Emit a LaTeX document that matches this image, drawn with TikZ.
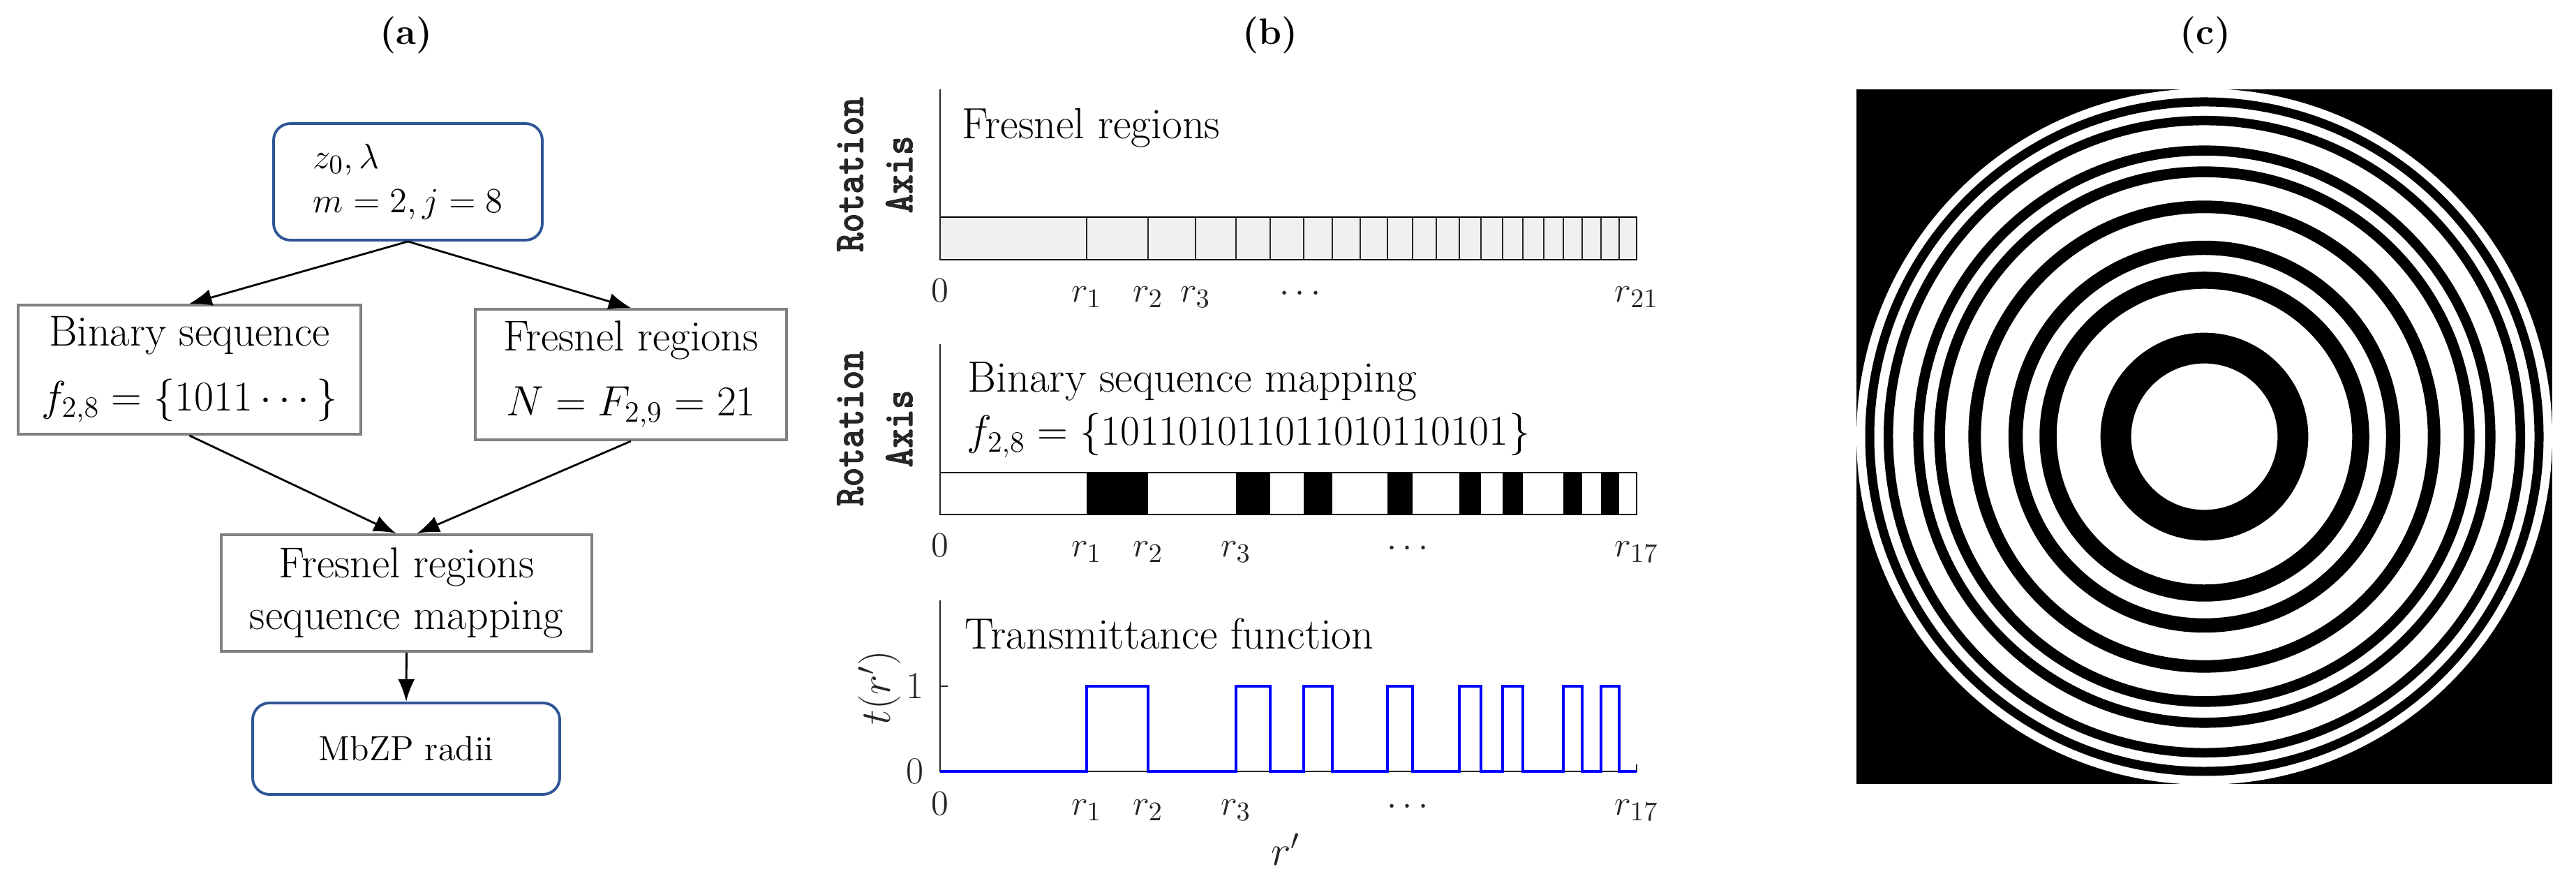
\documentclass[tikz,border=0pt]{standalone}
\usepackage{amsmath}
\usepackage{amssymb}
\usepackage{fontspec}
\newfontfamily\axisfont{lmmonolt10-bold.otf}[FakeStretch=0.87, FakeBold=1.5]
\usepackage{tikz}
\usetikzlibrary{arrows.meta}

\definecolor{boxblue}{RGB}{47,85,151}
\definecolor{boxgray}{RGB}{128,128,128}
\definecolor{axgray}{RGB}{38,38,38}

% zones that are black in the bar (offsets from the axis, in cm)
\newcommand{\zoneblocks}{2.10/2.98, 4.24/4.73, 5.21/5.62, 6.41/6.77, 7.44/7.75, 8.06/8.35, 8.93/9.20, 9.47/9.73}

\begin{document}
\begin{tikzpicture}[
		bluebox/.style={draw=boxblue, line width=1.1pt, rounded corners=0.24cm, inner sep=0pt},
		graybox/.style={draw=boxgray, line width=1.1pt, inner sep=0pt, align=center, font=\fontsize{17.6}{26.4}\selectfont},
		arr/.style={-{Latex[length=0.32cm,width=0.24cm]}, line width=0.8pt},
		tag/.style={font=\fontsize{15}{18}\selectfont\bfseries},
		title/.style={anchor=base west, inner sep=0pt, font=\fontsize{17.8}{21}\selectfont},
		tick/.style={anchor=base, inner sep=0pt, text=axgray, font=\fontsize{15}{18}\selectfont},
		axlabel/.style={rotate=90, align=center, text=axgray, font=\axisfont\fontsize{17.3}{20.1}\selectfont}]
	\useasboundingbox (0,0) rectangle (36.91,12.62);

	% (a) flow chart
	\node[tag] (taga) at (5.82,12.12) {(a)};
	\node[bluebox, minimum width=3.85cm, minimum height=1.67cm, align=left, font=\fontsize{15.4}{18.1}\selectfont] (input) at (5.845,10.015) {$z_0,\lambda$\\$m=2, j=8$};
	\node[graybox, minimum width=4.91cm, minimum height=1.85cm] (binseq) at (2.715,7.325) {Binary sequence\\$f_{2,8}=\{1011\cdots\}$};
	\node[graybox, minimum width=4.46cm, minimum height=1.87cm] (fresnel) at (9.04,7.255) {Fresnel regions\\$N=F_{2,9}=21$};
	\node[graybox, minimum width=5.31cm, minimum height=1.67cm, font=\fontsize{17.6}{21}\selectfont] (mapping) at (5.825,4.125) {Fresnel regions\\sequence mapping};
	\node[bluebox, minimum width=4.40cm, minimum height=1.31cm, font=\fontsize{14.3}{17}\selectfont] (radii) at (5.82,1.895) {MbZP radii};

	\draw[arr] (input.south) -- (binseq.north);
	\draw[arr] (input.south) -- (fresnel.north);
	\draw[arr] (binseq.south) -- ([xshift=-0.15cm]mapping.north);
	\draw[arr] (fresnel.south) -- ([xshift=0.15cm]mapping.north);
	\draw[arr] (mapping.south) -- (radii.north);

	% (b) top: Fresnel regions
	\node[tag] (tagb) at (18.20,12.12) {(b)};
	\fill[gray!12] (13.47,8.90) rectangle (23.45,9.51);
	\foreach \r in {2.10,2.98,3.66,4.24,4.73,5.21,5.62,6.02,6.41,6.77,7.11,7.44,7.75,8.06,8.35,8.65,8.93,9.20,9.47,9.73}
		\draw[axgray, line width=0.3pt] (13.47+\r,8.90) -- (13.47+\r,9.51);
	\draw[line width=0.6pt] (13.47,8.90) rectangle (23.45,9.51);
	\draw[axgray, line width=0.4pt] (13.47,11.34) -- (13.47,8.90);
	\node[axlabel] (rot1) at (12.535,10.12) {Rotation\\Axis};
	\node[title] (ttl1) at (13.78,10.63) {Fresnel regions};
	\foreach \x/\t [count=\i] in {0/0, 2.10/r_1, 2.98/r_2, 3.66/r_3, 5.20/\cdots, 9.98/r_{21}}
		\node[tick] (ta\i) at (13.47+\x,8.29) {$\t$};

	% (b) middle: binary sequence mapping
	\foreach \a/\b in \zoneblocks
		\fill (13.47+\a,5.25) rectangle (13.47+\b,5.85);
	\draw[line width=0.6pt] (13.47,5.25) rectangle (23.45,5.85);
	\draw[axgray, line width=0.4pt] (13.47,7.69) -- (13.47,5.25);
	\node[axlabel] (rot2) at (12.535,6.48) {Rotation\\Axis};
	\node[title] (ttl2) at (13.86,7.00) {Binary sequence mapping};
	\node[title] (seq) at (13.85,6.24) {$f_{2,8}=\{101101011011010110101\}$};
	\foreach \x/\t [count=\i] in {0/0, 2.10/r_1, 2.98/r_2, 4.24/r_3, 6.74/\cdots, 9.98/r_{17}}
		\node[tick] (tb\i) at (13.47+\x,4.64) {$\t$};

	% (b) bottom: transmittance function
	\draw[axgray, line width=0.4pt] (13.47,4.02) -- (13.47,1.57) -- (23.45,1.57) -- (23.45,1.67);
	\draw[axgray, line width=0.4pt] (13.47,2.79) -- (13.58,2.79);
	\draw[blue, line width=1.15pt] (13.47,1.57)
		\foreach \a/\b in \zoneblocks {-- (13.47+\a,1.57) -- (13.47+\a,2.79) -- (13.47+\b,2.79) -- (13.47+\b,1.57)}
		-- (23.45,1.57);
	\node[title] (ttl3) at (13.82,3.32) {Transmittance function};
	\node[anchor=east, text=axgray, font=\fontsize{15.5}{18}\selectfont] (one) at (13.36,2.79) {1};
	\node[anchor=east, text=axgray, font=\fontsize{15.5}{18}\selectfont] (zero) at (13.36,1.57) {0};
	\node[rotate=90, text=axgray, font=\fontsize{17}{20}\selectfont] (tlab) at (12.60,2.77) {$t(r')$};
	\node[text=axgray, font=\fontsize{16.5}{20}\selectfont] (rlab) at (18.42,0.45) {$r'$};
	\foreach \x/\t [count=\i] in {0/0, 2.10/r_1, 2.98/r_2, 4.24/r_3, 6.74/\cdots, 9.98/r_{17}}
		\node[tick] (tc\i) at (13.47+\x,0.94) {$\t$};

	% (c) zone plate
	\node[tag] (tagc) at (31.60,12.12) {(c)};
	\coordinate (zp) at (31.585,6.365);
	\begin{scope}
		\clip (26.60,1.39) rectangle (36.57,11.34);
		\fill[black] (26.60,1.39) rectangle (36.57,11.34);
		\fill[white] (zp) circle[radius=4.985];
		\foreach \a/\b in \zoneblocks
			\fill[black, even odd rule] (zp) circle[radius=0.4995*\b] circle[radius=0.4995*\a];
	\end{scope}
\end{tikzpicture}
\end{document}
